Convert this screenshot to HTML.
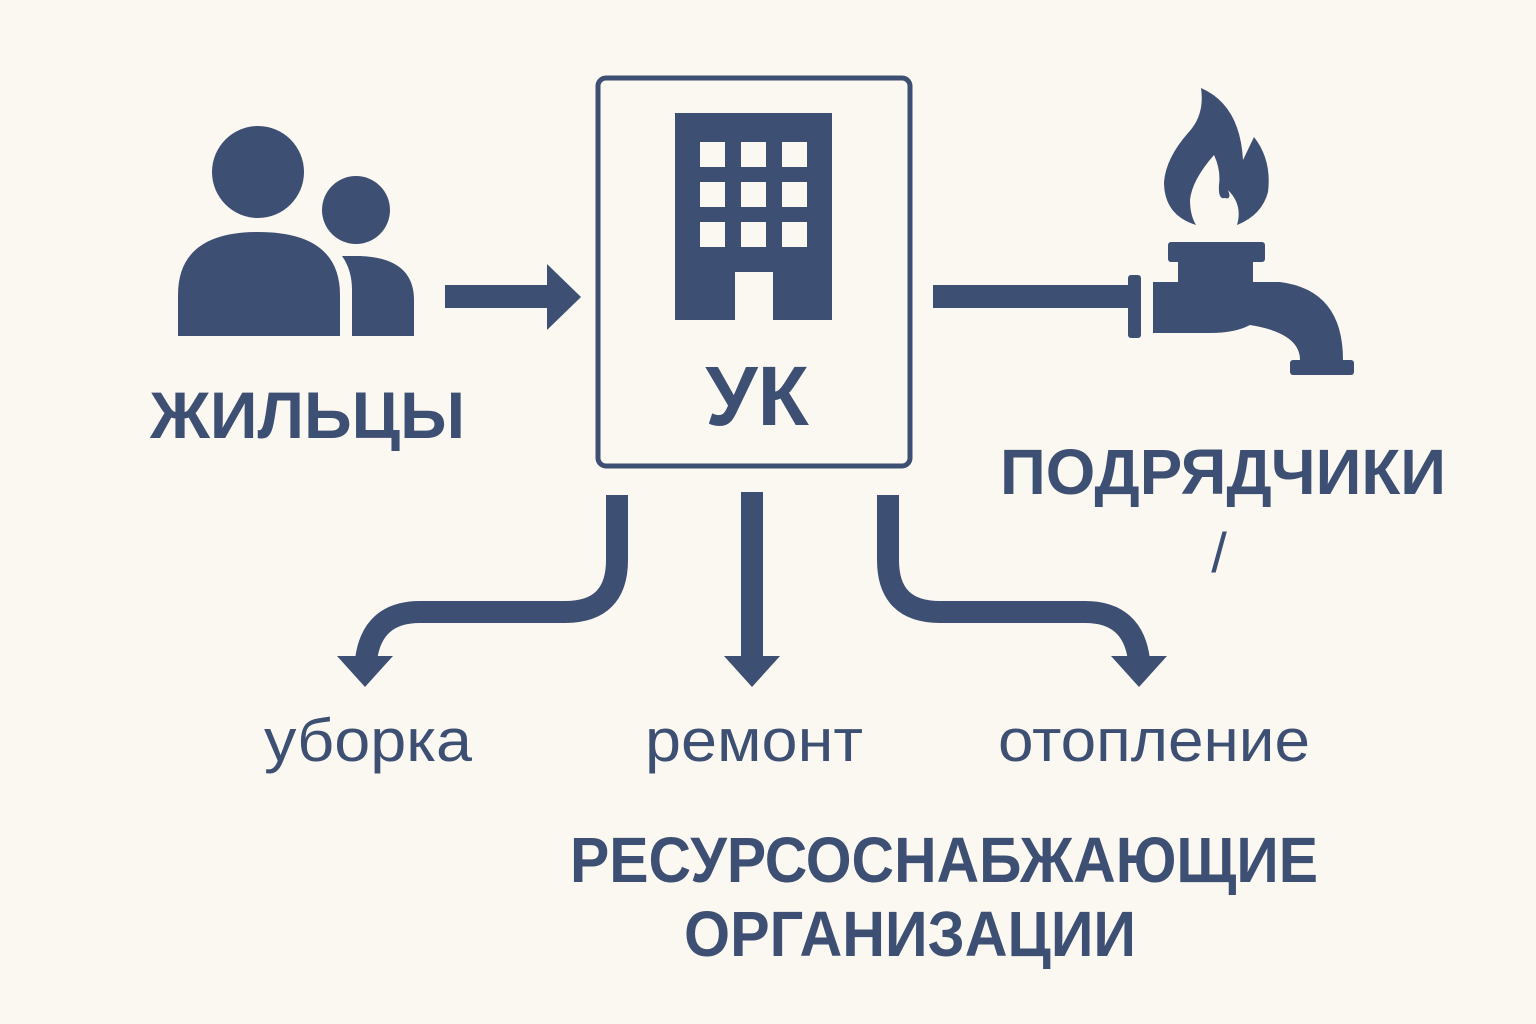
<!DOCTYPE html>
<html><head><meta charset="utf-8"><style>
html,body{margin:0;padding:0;background:#fbf8f1;}
svg{display:block}
text{font-family:"Liberation Sans","DejaVu Sans",sans-serif;fill:#3d4f72;}
</style></head><body>
<svg width="1536" height="1024" viewBox="0 0 1536 1024" xmlns="http://www.w3.org/2000/svg">
<rect width="1536" height="1024" fill="#fbf8f1"/>
<g fill="#3d4f72">
<circle cx="258" cy="172" r="46"/>
<circle cx="356" cy="210" r="34"/>
<path d="M178 336 L178 295 Q178 232 258 232 Q340 232 340 295 L340 336 Z"/>
<path d="M342 256 L360 256 Q414 258 414 300 L414 336 L352 336 L352 290 Q352 270 342 256 Z"/>
<rect x="445" y="285" width="105" height="23"/>
<path d="M547 264 L581 297 L547 330 Z"/>
<path fill-rule="evenodd" d="M675 113 H832 V320 H773 V272 H735 V320 H675 Z
M700 142 h25 v25 h-25 Z M741 142 h25 v25 h-25 Z M782 142 h25 v25 h-25 Z
M700 182 h25 v25 h-25 Z M741 182 h25 v25 h-25 Z M782 182 h25 v25 h-25 Z
M700 222 h25 v25 h-25 Z M741 222 h25 v25 h-25 Z M782 222 h25 v25 h-25 Z"/>
<rect x="933" y="285" width="198" height="23"/>
<rect x="1128" y="275" width="13" height="63" rx="3"/>
<rect x="1168" y="242" width="97" height="20" rx="3"/>
<rect x="1178" y="258" width="75" height="30"/>
<path d="M1153 282 H1280 Q1343 290 1343 360 H1300 Q1300 333 1250 325 Q1235 333 1210 333 H1153 Z"/>
<rect x="1290" y="360" width="64" height="15" rx="3"/>
<path d="M1201 88 Q1240 105 1243 160 L1254 137 Q1272 160 1268 192 Q1262 215 1237 225 Q1243 205 1228 190 Q1232 200 1225 198 Q1218 200 1219 185 Q1221 170 1214 155 Q1192 180 1190 200 Q1190 215 1196 225 Q1164 215 1164 182 Q1166 158 1188 133 Q1205 115 1201 88 Z"/>
</g>
<rect x="598" y="78" width="312" height="388" rx="8" fill="none" stroke="#3d4f72" stroke-width="5"/>
<g fill="none" stroke="#3d4f72" stroke-width="22">
<path d="M617 495 V560 Q617 612 565 612 H420 Q372 612 366 660"/>
<path d="M752 492 V662"/>
<path d="M888 495 V560 Q888 612 940 612 H1085 Q1133 612 1139 660"/>
</g>
<g fill="#3d4f72">
<path d="M337 656 L393 656 L365 687 Z"/>
<path d="M724 656 L780 656 L752 687 Z"/>
<path d="M1111 656 L1167 656 L1139 687 Z"/>
</g>
<text x="757" y="425" font-size="84" font-weight="bold" text-anchor="middle">УК</text>
<text x="150" y="438" font-size="66" font-weight="bold" textLength="315" lengthAdjust="spacingAndGlyphs">ЖИЛЬЦЫ</text>
<text x="1000" y="494" font-size="64" font-weight="bold" textLength="446" lengthAdjust="spacingAndGlyphs">ПОДРЯДЧИКИ</text>
<text x="1219" y="572" font-size="56" text-anchor="middle">/</text>
<text x="264" y="761" font-size="60" textLength="208" lengthAdjust="spacingAndGlyphs">уборка</text>
<text x="645" y="761" font-size="60" textLength="218" lengthAdjust="spacingAndGlyphs">ремонт</text>
<text x="998" y="761" font-size="60" textLength="312" lengthAdjust="spacingAndGlyphs">отопление</text>
<text x="570" y="882" font-size="64" font-weight="bold" textLength="748" lengthAdjust="spacingAndGlyphs">РЕСУРСОСНАБЖАЮЩИЕ</text>
<text x="684" y="956" font-size="64" font-weight="bold" textLength="452" lengthAdjust="spacingAndGlyphs">ОРГАНИЗАЦИИ</text>
</svg>
</body></html>
